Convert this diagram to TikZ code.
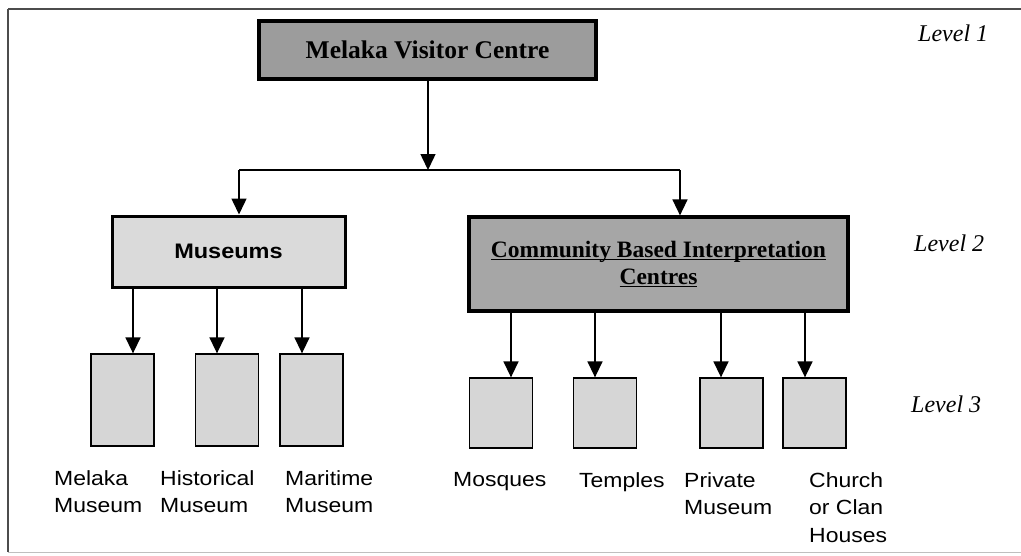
\documentclass[tikz,border=0pt]{standalone}
\usepackage{fontspec}
\setmainfont{Liberation Serif}
\newfontfamily\arialx[FakeStretch=1.12]{Liberation Sans}
\usetikzlibrary{arrows.meta,positioning}
\newcommand\myul[1]{\setbox0\hbox{#1}\rlap{\rule[-2.5pt]{\wd0}{1pt}}\box0}
\definecolor{darkfill}{HTML}{9C9C9C}
\definecolor{cbicfill}{HTML}{A6A6A6}
\definecolor{lightfill}{HTML}{DADADA}
\definecolor{smallfill}{HTML}{D6D6D6}
\tikzset{
  box/.style={draw=black, rectangle, inner sep=0pt, anchor=center},
  topbox/.style={box, fill=darkfill, line width=4pt, minimum width=337pt, minimum height=58pt,
     font=\bfseries\fontsize{25.5}{28}\selectfont},
  musbox/.style={box, fill=lightfill, line width=3pt, minimum width=233pt, minimum height=71pt,
     font=\arialx\bfseries\fontsize{21}{25}\selectfont},
  cbicbox/.style={box, fill=cbicfill, line width=3.2pt, minimum width=379pt, minimum height=94pt,
     align=center, font=\bfseries\fontsize{23.5}{28}\selectfont},
  smallbox/.style={box, fill=smallfill, line width=1.3pt, minimum width=63pt},
  lbl/.style={anchor=north west, inner sep=0pt, align=left,
     font=\arialx\fontsize{20.5}{27.5}\selectfont},
  lvl/.style={anchor=base west, inner sep=0pt, font=\itshape\fontsize{24}{28}\selectfont},
  arr/.style={line width=1.5pt, -{Triangle[length=16pt,width=15pt]}},
  conn/.style={line width=1.5pt},
}
\begin{document}
\begin{tikzpicture}[x=1pt,y=-1pt]
\useasboundingbox (0,0) rectangle (1021,555);
% frame
\draw[line width=2pt, black!70] (8,9) -- (1021,9);
\draw[line width=1.5pt, black!70] (8,9) -- (8,552);
\draw[line width=1pt, black!25] (8,552) -- (1021,552);

% level 1
\node[topbox] (top) at (427.5,50) {Melaka Visitor Centre};
\coordinate (j) at (428,170);
% level 2
\node[musbox] (mus) at (228.5,251.5) {Museums};
\node[cbicbox] (cbic) at (658.5,264) {\myul{Community Based Interpretation}\\[-1pt]\myul{Centres}};
% level 3 boxes
\node[smallbox, minimum height=92pt] (b1) at (122.5,400) {};
\node[smallbox, minimum height=92pt] (b2) at (227,400) {};
\node[smallbox, minimum height=92pt] (b3) at (311.5,400) {};
\node[smallbox, minimum height=70pt] (c1) at (501,413) {};
\node[smallbox, minimum height=70pt] (c2) at (605,413) {};
\node[smallbox, minimum height=70pt] (c3) at (731.5,413) {};
\node[smallbox, minimum height=70pt] (c4) at (814.5,413) {};

% connectors
\draw[arr] (top.south -| j) -- (j);
\draw[conn] ([xshift=10.5pt]mus.north |- j) -- ([xshift=21.5pt]cbic.north |- j);
\draw[arr] ([xshift=10.5pt]mus.north |- j) -- ([xshift=10.5pt]mus.north);
\draw[arr] ([xshift=21.5pt]cbic.north |- j) -- ([xshift=21.5pt]cbic.north);

\draw[arr] ([xshift=10.5pt]b1.north |- mus.south) -- ([xshift=10.5pt]b1.north);
\draw[arr] ([xshift=-10pt]b2.north |- mus.south) -- ([xshift=-10pt]b2.north);
\draw[arr] ([xshift=-9.5pt]b3.north |- mus.south) -- ([xshift=-9.5pt]b3.north);

\draw[arr] ([xshift=10pt]c1.north |- cbic.south) -- ([xshift=10pt]c1.north);
\draw[arr] ([xshift=-10pt]c2.north |- cbic.south) -- ([xshift=-10pt]c2.north);
\draw[arr] ([xshift=-10.5pt]c3.north |- cbic.south) -- ([xshift=-10.5pt]c3.north);
\draw[arr] ([xshift=-9.5pt]c4.north |- cbic.south) -- ([xshift=-9.5pt]c4.north);

% labels
\node[lbl] (l1) at (54,470) {Melaka\\Museum};
\node[lbl] (l2) at (160,470) {Historical\\Museum};
\node[lbl] (l3) at (285,470) {Maritime\\Museum};
\node[lbl] (m1) at (453,472) {Mosques};
\node[lbl] (m2) at (579,472) {Temples};
\node[lbl] (m3) at (684,472) {Private\\Museum};
\node[lbl] (m4) at (809,472) {Church\\or Clan\\Houses};

% levels
\node[lvl] (lv1) at (918,41) {Level 1};
\node[lvl] (lv2) at (914,251) {Level 2};
\node[lvl] (lv3) at (911,412) {Level 3};
\end{tikzpicture}
\end{document}
